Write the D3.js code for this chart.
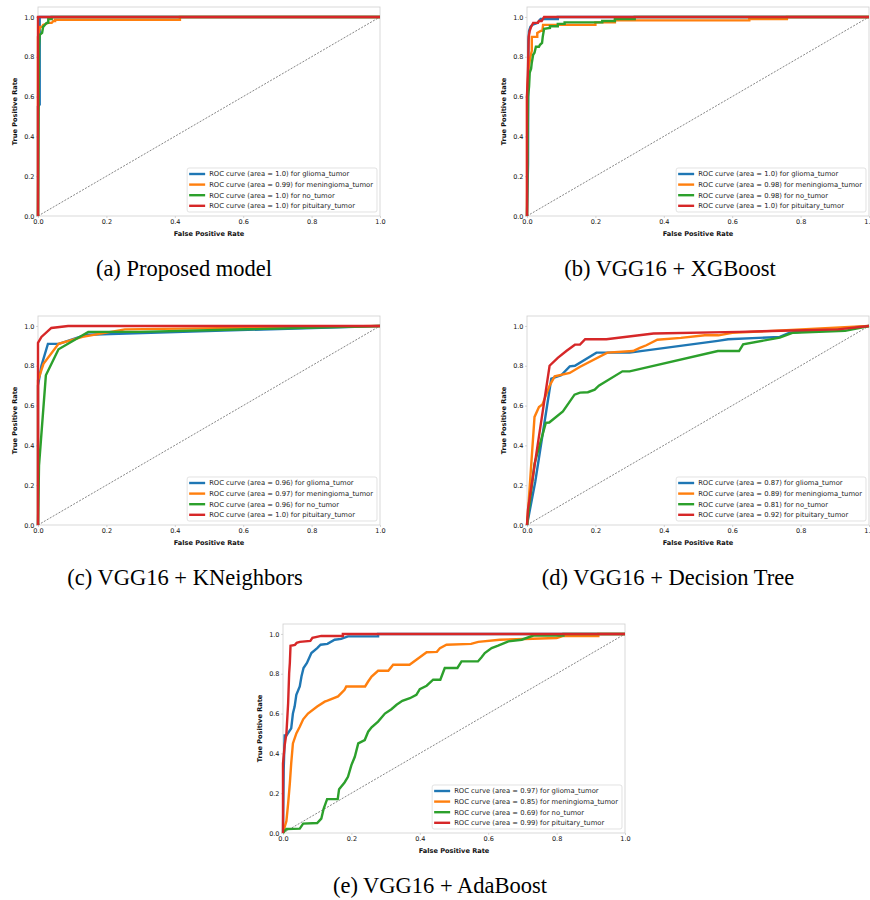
<!DOCTYPE html>
<html>
<head>
<meta charset="utf-8">
<script src="https://cdn.jsdelivr.net/npm/d3@7"></script>
<style>
body{margin:0;background:#fff;}
svg{display:block;}
</style>
</head>
<body>
<svg id="fig"></svg>
<script>
//classes and the matplotlib colour cycle
var classNames = ['glioma_tumor','meningioma_tumor','no_tumor','pituitary_tumor'];
var colors = ['#1f77b4','#ff7f0e','#2ca02c','#d62728'];
var xTicks = [0,0.2,0.4,0.6,0.8,1.0];
var yTicks = [0,0.2,0.4,0.6,0.8,1.0];
var captions = ['(a) Proposed model','(b) VGG16 + XGBoost','(c) VGG16 + KNeighbors','(d) VGG16 + Decision Tree','(e) VGG16 + AdaBoost'];

/*********(a) proposed model************/
var aucA = ['1.0','0.99','1.0','1.0'];
var rocA_glioma = [[0,0],[0,0.55],[0.005,0.56],[0.005,1],[1,1]];
var rocA_menin = [[0,0],[0,0.9],[0.003,0.93],[0.006,0.95],[0.012,0.95],[0.015,0.96],[0.03,0.97],[0.04,0.97],[0.045,0.98],[0.05,0.98],[0.05,0.986],[0.415,0.986],[0.415,1],[1,1]];
var rocA_none = [[0,0],[0.003,0.85],[0.005,0.91],[0.012,0.92],[0.015,0.95],[0.02,0.96],[0.025,0.97],[0.03,0.97],[0.03,0.99],[0.04,0.99],[0.04,1],[1,1]];
var rocA_pitu = [[0,0],[0,1],[1,1]];

/*********(b) VGG16 + XGBoost************/
var aucB = ['1.0','0.98','0.98','1.0'];
var rocB_glioma = [[0,0],[0.003,0.26],[0.004,0.88],[0.006,0.93],[0.01,0.95],[0.015,0.96],[0.03,0.97],[0.035,0.98],[0.04,0.99],[0.09,0.99],[0.09,1],[1,1]];
var rocB_menin = [[0,0],[0,0.6],[0.005,0.75],[0.01,0.8],[0.014,0.83],[0.014,0.9],[0.03,0.9],[0.03,0.92],[0.04,0.93],[0.045,0.93],[0.047,0.96],[0.2,0.96],[0.2,0.973],[0.257,0.973],[0.257,0.983],[0.65,0.983],[0.65,0.99],[0.76,0.99],[0.76,1],[1,1]];
var rocB_none = [[0,0],[0.003,0.6],[0.006,0.65],[0.008,0.72],[0.012,0.74],[0.014,0.77],[0.018,0.81],[0.022,0.82],[0.026,0.85],[0.035,0.85],[0.038,0.86],[0.044,0.87],[0.046,0.9],[0.05,0.94],[0.067,0.945],[0.067,0.953],[0.09,0.953],[0.09,0.965],[0.11,0.965],[0.11,0.973],[0.22,0.973],[0.22,0.98],[0.257,0.98],[0.257,0.99],[0.315,0.99],[0.315,1],[1,1]];
var rocB_pitu = [[0,0],[0,0.6],[0.003,0.75],[0.005,0.9],[0.008,0.93],[0.012,0.95],[0.018,0.97],[0.032,0.97],[0.035,0.98],[0.043,0.98],[0.05,1],[1,1]];

/*********(c) VGG16 + KNeighbors************/
var aucC = ['0.96','0.97','0.96','1.0'];
var rocC_glioma = [[0,0],[0,0.7],[0.01,0.8],[0.029,0.91],[0.061,0.91],[0.141,0.956],[1,1]];
var rocC_menin = [[0,0],[0,0.727],[0.016,0.81],[0.06,0.91],[0.13,0.945],[0.254,0.983],[1,1]];
var rocC_none = [[0,0],[0.003,0.3],[0.023,0.752],[0.06,0.883],[0.147,0.97],[0.3,0.97],[1,1]];
var rocC_pitu = [[0,0],[0,0.915],[0.01,0.945],[0.039,0.99],[0.088,1],[1,1]];

/*********(d) VGG16 + Decision Tree************/
var aucD = ['0.87','0.89','0.81','0.92'];
var rocD_glioma = [[0,0],[0.024,0.216],[0.071,0.735],[0.1,0.752],[0.125,0.797],[0.14,0.8],[0.203,0.866],[0.3,0.866],[0.558,0.925],[0.588,0.933],[0.739,0.945],[0.768,0.966],[1,1]];
var rocD_menin = [[0,0],[0.005,0.12],[0.022,0.543],[0.035,0.593],[0.045,0.605],[0.066,0.7],[0.081,0.747],[0.125,0.764],[0.154,0.794],[0.235,0.866],[0.31,0.874],[0.33,0.89],[0.349,0.903],[0.381,0.931],[0.45,0.94],[0.52,0.953],[0.56,0.953],[0.6,0.965],[1,1]];
var rocD_none = [[0,0],[0.022,0.308],[0.055,0.513],[0.065,0.515],[0.105,0.571],[0.139,0.655],[0.155,0.665],[0.178,0.667],[0.198,0.68],[0.21,0.7],[0.279,0.772],[0.3,0.772],[0.558,0.874],[0.62,0.874],[0.632,0.908],[0.739,0.941],[0.778,0.966],[0.93,0.975],[1,1]];
var rocD_pitu = [[0,0],[0.003,0.08],[0.066,0.8],[0.09,0.84],[0.115,0.874],[0.14,0.906],[0.155,0.906],[0.17,0.933],[0.232,0.933],[0.37,0.962],[0.62,0.97],[0.91,0.983],[1,1]];

/*********(e) VGG16 + AdaBoost************/
var aucE = ['0.97','0.85','0.69','0.99'];
var rocE_glioma = [[0,0],[0.002,0.316],[0.005,0.49],[0.01,0.49],[0.024,0.526],[0.029,0.6],[0.034,0.635],[0.039,0.694],[0.049,0.736],[0.054,0.786],[0.06,0.829],[0.07,0.854],[0.083,0.904],[0.1,0.929],[0.11,0.946],[0.13,0.95],[0.151,0.971],[0.17,0.975],[0.19,0.988],[0.278,0.988],[0.278,1],[1,1]];
var rocE_menin = [[0,0],[0.005,0.03],[0.01,0.06],[0.015,0.148],[0.02,0.249],[0.024,0.35],[0.029,0.45],[0.039,0.5],[0.049,0.534],[0.059,0.571],[0.073,0.6],[0.1,0.635],[0.122,0.66],[0.13,0.665],[0.161,0.686],[0.18,0.719],[0.185,0.736],[0.24,0.736],[0.249,0.761],[0.259,0.786],[0.278,0.815],[0.308,0.815],[0.322,0.845],[0.37,0.845],[0.39,0.87],[0.42,0.908],[0.45,0.91],[0.459,0.929],[0.478,0.946],[0.55,0.95],[0.571,0.96],[0.634,0.971],[0.8,0.98],[0.82,0.99],[0.922,0.99],[0.922,1],[1,1]];
var rocE_none = [[0,0],[0.01,0.02],[0.049,0.022],[0.059,0.047],[0.1,0.05],[0.112,0.072],[0.119,0.123],[0.129,0.17],[0.16,0.17],[0.164,0.22],[0.18,0.254],[0.19,0.282],[0.2,0.341],[0.21,0.383],[0.22,0.45],[0.239,0.467],[0.249,0.509],[0.259,0.531],[0.278,0.56],[0.298,0.6],[0.317,0.622],[0.332,0.644],[0.349,0.664],[0.371,0.677],[0.39,0.694],[0.4,0.723],[0.42,0.74],[0.439,0.77],[0.46,0.77],[0.473,0.829],[0.51,0.829],[0.522,0.862],[0.57,0.862],[0.58,0.882],[0.59,0.904],[0.61,0.929],[0.629,0.941],[0.659,0.963],[0.698,0.971],[0.732,0.992],[0.82,0.992],[0.82,1],[1,1]];
var rocE_pitu = [[0,0],[0,0.35],[0.005,0.442],[0.01,0.5],[0.015,0.652],[0.018,0.803],[0.02,0.854],[0.022,0.941],[0.035,0.945],[0.04,0.955],[0.049,0.96],[0.08,0.965],[0.086,0.98],[0.112,0.99],[0.175,0.99],[0.175,1],[1,1]];
/*********************/

var panels = [
	{auc:aucA,curves:[rocA_glioma,rocA_menin,rocA_none,rocA_pitu]},
	{auc:aucB,curves:[rocB_glioma,rocB_menin,rocB_none,rocB_pitu]},
	{auc:aucC,curves:[rocC_glioma,rocC_menin,rocC_none,rocC_pitu]},
	{auc:aucD,curves:[rocD_glioma,rocD_menin,rocD_none,rocD_pitu]},
	{auc:aucE,curves:[rocE_glioma,rocE_menin,rocE_none,rocE_pitu]}
];
//where each subplot sits on the page
var layout = [
	{left:38,top:7,capX:184,capY:276},
	{left:527,top:7,capX:670,capY:276},
	{left:38,top:316,capX:185,capY:585},
	{left:527,top:316,capX:668,capY:585},
	{left:283,top:624,capX:440,capY:893}
];
var width = 870, height = 900;
var plotW = 342, plotH = 209;
var sansFont = 'DejaVu Sans';

var svg = d3.select('#fig').attr('width',width).attr('height',height);

panels.forEach(function(p,k){
	var L = layout[k];
	var g = svg.append('g').attr('transform','translate('+L.left+','+L.top+')');
	var xScale = d3.scaleLinear().domain([0,1]).range([0,plotW]);
	var yScale = d3.scaleLinear().domain([0,1.05]).range([plotH,0]);

	//frame
	g.append('rect').attr('width',plotW).attr('height',plotH)
		.style('fill','#fff').style('stroke','#cfcfcf').style('stroke-width',0.8);

	//axes
	var axX = g.append('g').attr('transform','translate(0,'+plotH+')')
		.call(d3.axisBottom(xScale).tickValues(xTicks).tickFormat(d3.format('.1f')).tickSize(2).tickPadding(1.5));
	var axY = g.append('g')
		.call(d3.axisLeft(yScale).tickValues(yTicks).tickFormat(d3.format('.1f')).tickSize(2).tickPadding(1.5));
	[axX,axY].forEach(function(a){
		a.select('.domain').remove();
		a.selectAll('line').style('stroke','#bbb').style('stroke-width',0.6);
		a.selectAll('text').style('font-family',sansFont).style('font-size','6.5px').style('fill','#111');
	});

	//chance line
	g.append('line')
		.attr('x1',xScale(0)).attr('y1',yScale(0))
		.attr('x2',xScale(1)).attr('y2',yScale(1))
		.style('stroke','#333').style('stroke-width',0.6).style('stroke-dasharray','2,1.4');

	//roc curves
	var line = d3.line().x(function(d){return xScale(d[0]);}).y(function(d){return yScale(d[1]);});
	p.curves.forEach(function(c,i){
		g.append('path').datum(c).attr('d',line)
			.style('fill','none').style('stroke',colors[i]).style('stroke-width',2.4)
			.style('stroke-linejoin','miter');
	});

	//axis titles
	g.append('text').attr('x',plotW/2).attr('y',plotH+20)
		.attr('text-anchor','middle').style('font-family',sansFont).style('font-weight','bold')
		.style('font-size','6.6px').style('fill','#111').text('False Positive Rate');
	g.append('text').attr('transform','translate(-21,'+(plotH/2)+') rotate(-90)')
		.attr('text-anchor','middle').style('font-family',sansFont).style('font-weight','bold')
		.style('font-size','6.6px').style('fill','#111').text('True Positive Rate');

	//legend
	var legH = 44, legGap = 10.6;
	var legG = g.append('g');
	var box = legG.append('rect').attr('rx',2).attr('ry',2)
		.style('fill','#fff').style('fill-opacity',0.85).style('stroke','#d6d6d6').style('stroke-width',0.7);
	var maxW = 0;
	var items = legG.selectAll('g.item').data(classNames).enter().append('g')
		.attr('transform',function(d,i){return 'translate(0,'+(6+i*legGap)+')';});
	items.append('line').attr('x1',2).attr('x2',18).attr('y1',0).attr('y2',0)
		.style('stroke',function(d,i){return colors[i];}).style('stroke-width',2.4);
	items.append('text').attr('x',22).attr('y',0).attr('dy','0.35em')
		.style('font-family',sansFont).style('font-size','6.8px').style('fill','#222')
		.text(function(d,i){return 'ROC curve (area = '+p.auc[i]+') for '+d;})
		.each(function(){maxW = Math.max(maxW,this.getComputedTextLength());});
	var legW = 22 + maxW + 4;
	box.attr('width',legW).attr('height',legH);
	legG.attr('transform','translate('+(plotW-3-legW)+','+(plotH-4-legH)+')');

	//caption
	svg.append('text').attr('x',L.capX).attr('y',L.capY).attr('text-anchor','middle')
		.style('font-family','Liberation Serif').style('font-size','22.5px').style('fill','#000')
		.text(captions[k]);
});
</script>
</body>
</html>
